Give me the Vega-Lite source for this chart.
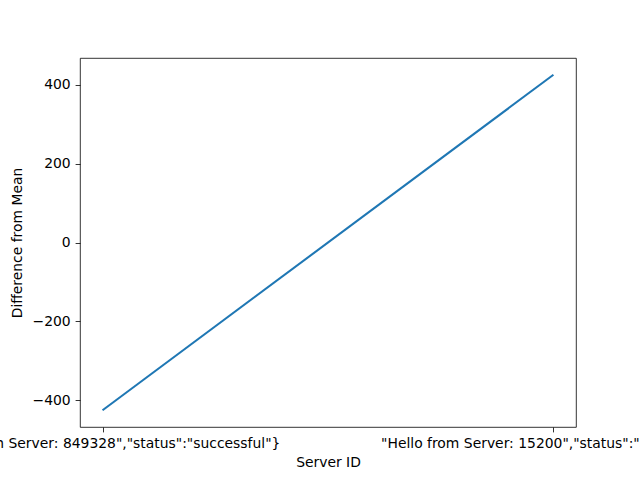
{
  "$schema": "https://vega.github.io/schema/vega-lite/v6.json",
  "width": 496,
  "height": 369,
  "autosize": {"type": "none"},
  "padding": {"left": 80, "top": 58, "right": 64, "bottom": 53},
  "background": "white",
  "config": {
    "view": {"stroke": "black", "strokeWidth": 0.8},
    "font": "DejaVu Sans",
    "axis": {
      "grid": false,
      "domain": false,
      "tickColor": "black",
      "tickWidth": 0.8,
      "tickSize": 4.9,
      "labelColor": "black",
      "labelFont": "DejaVu Sans",
      "labelFontSize": 13.9,
      "labelPadding": 4.9,
      "titleFont": "DejaVu Sans",
      "titleFontSize": 13.9,
      "titleFontWeight": "normal",
      "titleColor": "black"
    }
  },
  "data": {
    "values": [
      {"server": "\"Hello from Server: 849328\",\"status\":\"successful\"}", "diff": -425.5, "order": 0},
      {"server": "\"Hello from Server: 15200\",\"status\":\"successful\"}", "diff": 425.5, "order": 1}
    ]
  },
  "mark": {"type": "line", "color": "#1f77b4", "strokeWidth": 2.08},
  "encoding": {
    "x": {
      "field": "server",
      "type": "nominal",
      "sort": {"field": "order"},
      "scale": {"type": "point", "padding": 0.05},
      "axis": {"title": "Server ID", "labelAngle": 0, "labelOverlap": false, "labelLimit": 0, "labelBound": false, "labelFlush": false, "titlePadding": 5}
    },
    "y": {
      "field": "diff",
      "type": "quantitative",
      "scale": {"domain": [-468, 468], "nice": false, "zero": false},
      "axis": {"title": "Difference from Mean", "values": [-400, -200, 0, 200, 400], "titlePadding": 8}
    },
    "order": {"field": "order"}
  }
}
